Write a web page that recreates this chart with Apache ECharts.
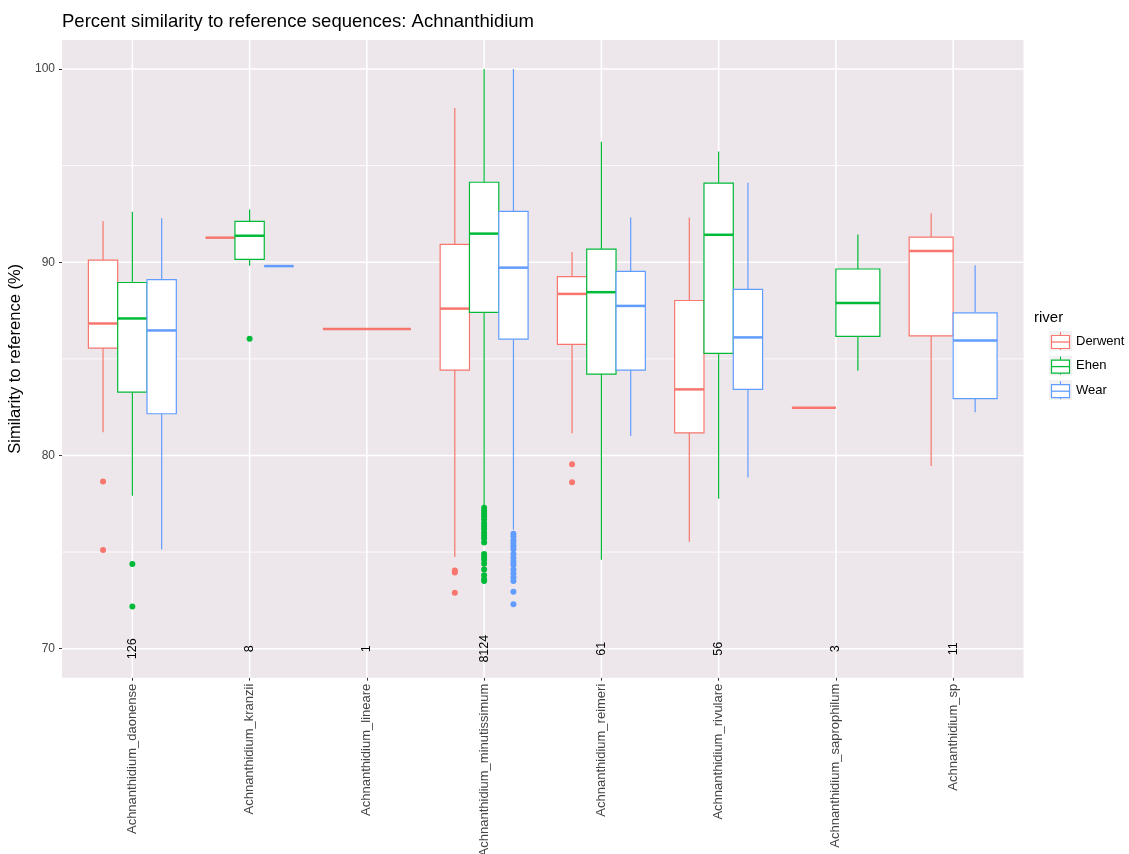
<!DOCTYPE html>
<html>
<head>
<meta charset="utf-8">
<script src="https://cdn.jsdelivr.net/npm/echarts@6/dist/echarts.min.js"></script>
<style>
html,body{margin:0;padding:0;background:#fff;}
#chart{width:1129px;height:854px;}
</style>
</head>
<body>
<div id="chart"></div>
<script>
// ---------- data ----------
const categories = ['Achnanthidium_daonense','Achnanthidium_kranzii','Achnanthidium_lineare','Achnanthidium_minutissimum','Achnanthidium_reimeri','Achnanthidium_rivulare','Achnanthidium_saprophilum','Achnanthidium_sp'];
const rivers = ['Derwent','Ehen','Wear'];
const riverColors = ['#F8766D','#00BA38','#619CFF'];
const counts = ['126','8','1','8124','61','56','3','11'];
const yTicks = [70, 80, 90, 100];
const yMinor = [75, 85, 95];
// [lower whisker, Q1, median, Q3, upper whisker] per category (null = absent)
const derwentStats = [
  [81.2, 85.56, 86.83, 90.11, 92.13],
  [91.27, 91.27, 91.27, 91.27, 91.27],
  [86.54, 86.54, 86.54, 86.54, 86.54],
  [74.75, 84.42, 87.6, 90.92, 97.98],
  [81.15, 85.75, 88.36, 89.26, 90.53],
  [75.54, 81.17, 83.42, 88.02, 92.3],
  [82.47, 82.47, 82.47, 82.47, 82.47],
  [79.46, 86.19, 90.58, 91.3, 92.54]
];
const ehenStats = [
  [77.91, 83.28, 87.09, 88.95, 92.61],
  [89.82, 90.15, 91.37, 92.11, 92.73],
  null,
  [77.36, 87.4, 91.48, 94.14, 100],
  [74.6, 84.21, 88.45, 90.68, 96.23],
  [77.76, 85.28, 91.42, 94.09, 95.73],
  [84.38, 86.16, 87.89, 89.65, 91.43],
  null
];
const wearStats = [
  [75.13, 82.16, 86.47, 89.1, 92.28],
  [89.8, 89.8, 89.8, 89.8, 89.8],
  null,
  [76.16, 86.02, 89.72, 92.63, 100],
  [81.01, 84.42, 87.74, 89.53, 92.32],
  [78.86, 83.42, 86.11, 88.6, 94.11],
  null,
  [82.24, 82.94, 85.95, 87.38, 89.84]
];
// outliers: [category number (1-based), value]
const derwentOutliers = [[1,78.65],[1,75.11],[4,74.05],[4,73.95],[4,72.89],[5,79.55],[5,78.62]];
const ehenOutliers = [[1,74.39],[1,72.18],[2,86.04],
  [4,77.3],[4,77.15],[4,77.0],[4,76.85],[4,76.7],[4,76.5],[4,76.35],[4,76.2],[4,76.0],[4,75.85],[4,75.7],[4,75.5],
  [4,74.9],[4,74.75],[4,74.6],[4,74.4],[4,74.1],[4,73.8],[4,73.6],[4,73.5]];
const wearOutliers = [[4,75.95],[4,75.8],[4,75.6],[4,75.45],[4,75.3],[4,75.15],[4,74.9],[4,74.7],[4,74.5],[4,74.35],
  [4,74.1],[4,73.9],[4,73.7],[4,73.5],[4,72.95],[4,72.3]];

const allStats = [derwentStats, ehenStats, wearStats];
const allOutliers = [derwentOutliers, ehenOutliers, wearOutliers];

// ---------- dodge layout (ggplot position_dodge, total width 0.75) ----------
const DODGE = 0.75;
function slotOf(ci, ri) {
  const present = [];
  for (let r = 0; r < 3; r++) if (allStats[r][ci]) present.push(r);
  const n = present.length, k = present.indexOf(ri);
  const w = DODGE / n;
  return { off: -DODGE / 2 + (k + 0.5) * w, w: w };
}

const FONT = '"Liberation Sans", Arial, Helvetica, sans-serif';
const chart = echarts.init(document.getElementById('chart'), null, { renderer: 'canvas' });

const gridData = [];
yTicks.forEach(v => gridData.push([0, v]));
yMinor.forEach(v => gridData.push([1, v]));
categories.forEach((c, i) => gridData.push([2, i + 1]));

function gridRender(params, api) {
  const kind = api.value(0), v = api.value(1);
  const cs = params.coordSys;
  if (kind === 2) {
    const x = api.coord([v, 80])[0];
    return { type: 'line', shape: { x1: x, y1: cs.y, x2: x, y2: cs.y + cs.height },
      style: { stroke: '#ffffff', lineWidth: 1.5 }, silent: true };
  }
  const y = api.coord([1, v])[1];
  return { type: 'line', shape: { x1: cs.x, y1: y, x2: cs.x + cs.width, y2: y },
    style: { stroke: '#ffffff', lineWidth: kind === 0 ? 1.5 : 0.8 }, silent: true };
}

function boxRender(color) {
  return function (params, api) {
    const c = api.value(0), off = api.value(1), w = api.value(2);
    const lo = api.value(3), q1 = api.value(4), med = api.value(5), q3 = api.value(6), hi = api.value(7);
    const xc = c + off;
    const tl = api.coord([xc - w / 2, q3]);
    const br = api.coord([xc + w / 2, q1]);
    const pm = api.coord([xc, med]);
    const ph = api.coord([xc, hi]);
    const pl = api.coord([xc, lo]);
    const x0 = tl[0], x1 = br[0], cx = pm[0];
    return {
      type: 'group',
      children: [
        { type: 'line', shape: { x1: cx, y1: ph[1], x2: cx, y2: tl[1] }, style: { stroke: color, lineWidth: 1.2 } },
        { type: 'line', shape: { x1: cx, y1: br[1], x2: cx, y2: pl[1] }, style: { stroke: color, lineWidth: 1.2 } },
        { type: 'rect', shape: { x: x0, y: tl[1], width: x1 - x0, height: br[1] - tl[1] },
          style: { fill: '#ffffff', stroke: color, lineWidth: 1.2 } },
        { type: 'line', shape: { x1: x0, y1: pm[1], x2: x1, y2: pm[1] }, style: { stroke: color, lineWidth: 2.5 } }
      ]
    };
  };
}

const series = [];
series.push({ type: 'custom', name: 'grid', z: 1, silent: true, renderItem: gridRender, data: gridData,
  encode: { x: 1, y: 1 }, animation: false });

rivers.forEach((r, ri) => {
  const data = [];
  allStats[ri].forEach((s, ci) => {
    if (!s) return;
    const sl = slotOf(ci, ri);
    data.push([ci + 1, sl.off, sl.w].concat(s));
  });
  series.push({ type: 'custom', name: r, z: 2, renderItem: boxRender(riverColors[ri]), data: data,
    encode: { x: 0, y: 5 }, animation: false });
  const outs = allOutliers[ri].map(o => {
    const sl = slotOf(o[0] - 1, ri);
    return [o[0] + sl.off, o[1]];
  });
  series.push({ type: 'scatter', name: r + ' outliers', z: 3, symbol: 'circle', symbolSize: 6,
    itemStyle: { color: riverColors[ri], opacity: 1 }, data: outs, animation: false, silent: true });
});

series.push({
  type: 'custom', name: 'counts', z: 4, silent: true, animation: false,
  data: counts.map((t, i) => [i + 1, 70, t]),
  encode: { x: 0, y: 1 },
  renderItem: function (params, api) {
    const p = api.coord([api.value(0), api.value(1)]);
    return { type: 'text', x: p[0], y: p[1], rotation: Math.PI / 2,
      style: { text: counts[params.dataIndex], fill: '#000000', font: '12.5px ' + FONT, align: 'center', verticalAlign: 'middle' } };
  }
});

// legend drawn as graphics (ggplot-style boxplot keys)
const legendGraphics = [
  { type: 'text', left: 1034, top: 310, style: { text: 'river', fill: '#000', font: '15px ' + FONT } }
];
rivers.forEach((r, i) => {
  const y0 = 331 + i * 24.6;
  const col = riverColors[i];
  legendGraphics.push({ type: 'rect', shape: { x: 1049, y: y0, width: 23, height: 20 }, style: { fill: '#F2F2F2' } });
  legendGraphics.push({ type: 'line', shape: { x1: 1060.5, y1: y0 + 1, x2: 1060.5, y2: y0 + 19 }, style: { stroke: col, lineWidth: 1.1 } });
  legendGraphics.push({ type: 'rect', shape: { x: 1051.5, y: y0 + 4.5, width: 18, height: 13 }, style: { fill: '#fff', stroke: col, lineWidth: 1.2 } });
  legendGraphics.push({ type: 'line', shape: { x1: 1051.5, y1: y0 + 11, x2: 1069.5, y2: y0 + 11 }, style: { stroke: col, lineWidth: 1.3 } });
  legendGraphics.push({ type: 'text', x: 1076, y: y0 + 10, style: { text: r, fill: '#000', font: '13px ' + FONT, verticalAlign: 'middle' } });
});

const option = {
  animation: false,
  backgroundColor: '#ffffff',
  title: { text: 'Percent similarity to reference sequences: Achnanthidium', left: 57, top: 7,
    textStyle: { fontFamily: FONT, fontSize: 18.5, fontWeight: 'normal', color: '#000' } },
  grid: { left: 62, right: 105.5, top: 40, bottom: 176.3, show: true, backgroundColor: '#EDE7EB', borderWidth: 0,
    containLabel: false, outerBoundsMode: 'none' },
  xAxis: {
    type: 'value', min: 0.4, max: 8.6,
    axisLine: { show: false }, splitLine: { show: false },
    axisTick: { show: true, customValues: categories.map((c, i) => i + 1), length: 3, lineStyle: { color: '#333', width: 1 } },
    axisLabel: { show: true, customValues: categories.map((c, i) => i + 1), rotate: 90, margin: 6,
      formatter: v => categories[Math.round(v) - 1] || '', color: '#444444', fontSize: 13, fontFamily: FONT }
  },
  yAxis: {
    type: 'value', min: 68.5, max: 101.5,
    name: 'Similarity to reference (%)', nameLocation: 'middle', nameGap: 36,
    nameTextStyle: { fontFamily: FONT, fontSize: 16.5, color: '#000' },
    axisLine: { show: false }, splitLine: { show: false },
    axisTick: { show: true, customValues: yTicks, length: 3, lineStyle: { color: '#333', width: 1 } },
    axisLabel: { show: true, customValues: yTicks, margin: 7, color: '#444444', fontSize: 12, fontFamily: FONT }
  },
  graphic: legendGraphics,
  series: series
};
chart.setOption(option);
</script>
</body>
</html>
